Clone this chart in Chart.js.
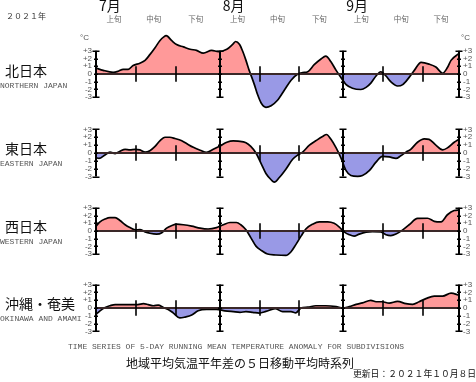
<!DOCTYPE html>
<html><head><meta charset="utf-8">
<script src="https://cdn.jsdelivr.net/npm/chart.js@4"></script>
<style>
html,body{margin:0;padding:0;background:#fff;}
#wrap{position:relative;width:476px;height:382px;overflow:hidden;background:#fff;}
canvas.p{position:absolute;left:0;}
.t{position:absolute;white-space:nowrap;line-height:1;}
.jp{font-family:"Noto Sans CJK JP";color:#111;}
.en{font-family:"Liberation Mono";color:#555;font-size:8px;}
.sm{font-family:"Liberation Sans";color:#555;font-size:8px;}
</style></head><body><div id="wrap">
<canvas class="p" id="c0" width="476" height="120" style="top:14px"></canvas>
<canvas class="p" id="c1" width="476" height="120" style="top:93px"></canvas>
<canvas class="p" id="c2" width="476" height="120" style="top:171px"></canvas>
<canvas class="p" id="c3" width="476" height="120" style="top:248px"></canvas>
</div>
<script>
// ---- data ----
const regions = ['北日本','東日本','西日本','沖縄・奄美'];
const regionsEn = ['NORTHERN JAPAN','EASTERN JAPAN','WESTERN JAPAN','OKINAWA AND AMAMI'];
const months = ['7月','8月','9月'];
const monthStartDay = [0,31,62];
const lastDay = 91;
const decades = ['上旬','中旬','下旬'];
const decadeTickDays = [10,20,41,51,72,82];
const yTicks = [-3,-2,-1,0,1,2,3];

const northDay = [0,1.8,4.3,5.6,6.8,8.1,9.3,11,12.3,13.5,14.8,16,17,17.6,19,20.2,21.9,23.6,25.2,26.9,29,30.7,32.8,34.4,35,36,36.8,37.6,38.4,38.8,39.7,40.5,41.4,42.6,43.9,45.5,47.2,48.9,50.6,51.8,53.1,54.7,56.4,57.6,58.9,60.2,61.4,62.7,64.3,66.4,67.7,68.9,70.2,71.4,72.7,73.9,75.6,76.9,78.5,79.8,81.5,83.5,85.2,86.9,88.1,89,90.6,91];
const northVal = [0.77,0.47,0.22,0.36,0.6,0.6,1.1,1.4,1.76,2.5,3.4,4.3,4.8,4.95,4.3,3.8,3.5,3.2,3.05,2.7,3.05,2.9,3.2,3.9,4.2,3.8,2.9,1.76,0.47,-0.08,-1.37,-2.65,-3.75,-4.3,-4.1,-3.4,-2.1,-0.8,0,0.18,0.3,1.2,1.94,2.3,1.58,0.47,-0.44,-1.37,-1.84,-2.0,-1.73,-1.18,-0.26,0.29,-0.26,-1.0,-1.55,-1.37,-0.44,0.47,1.5,1.28,0.9,0.1,0.84,1.76,2.5,2.6];

const eastDay = [0,0.75,2.25,3.5,4.8,6,7.3,8.5,9.8,11,12.3,13.5,14.8,16,17.3,18.5,19.8,21.5,22.7,24.4,26.1,27.7,29.4,31.1,32.8,34.4,35.6,37.6,38.8,40.1,41.4,42.6,43.9,44.7,45.9,47.6,49.3,50.6,51.8,53.5,55.1,56.8,57.8,58.9,60.2,61.4,62.7,63.9,65.6,66.8,68.5,70.2,71.8,73.5,75.2,76.4,77.7,78.9,80.6,82.3,83.5,85.2,86.9,88.1,89.8,91];
const eastVal = [-0.61,-0.69,-0.25,0.11,-0.07,0.22,0.47,0.4,0.47,0.4,0.11,0.29,0.83,1.55,2.0,2.0,1.84,1.55,1.2,0.72,0.36,0.07,0.47,0.9,1.37,1.55,1.5,1.3,0.83,0,-1.34,-2.6,-3.4,-3.7,-3.15,-2.06,-0.8,-0.25,0.11,1.0,1.55,2.1,2.35,1.74,0.65,-0.61,-2.24,-2.86,-2.97,-2.86,-2.24,-1.16,-0.43,-0.5,-0.69,-0.36,0.11,0.47,1.37,1.8,1.74,1.0,0.4,0.65,1.37,1.74];

const westDay = [0,1,2.25,3.5,4.8,6,7.3,8.5,9.8,11,12.3,13.5,15.2,16.5,17.7,19,20.2,21.9,24,26.1,28.1,30.2,31.9,33.6,35.2,36.3,37.6,38.8,40.1,41.4,43,45.1,47.6,48.9,50.1,51.4,52.6,54.3,56,58.1,59.7,61,62.2,63.5,64.7,66,67.7,69.3,71.4,72.7,73.9,75.2,76.9,78.5,80.6,83.1,84.8,86.5,88.1,89.8,91];
const westVal = [0.63,1.18,1.54,1.73,1.73,1.36,0.81,0.44,0.15,0.18,-0.11,-0.29,-0.4,-0.22,0.37,0.7,0.88,0.81,0.63,0.37,0.26,0.44,0.81,1.1,1.1,0.81,0.15,-0.85,-1.95,-2.5,-2.98,-3.1,-3.15,-2.68,-1.76,-0.66,0.26,0.88,1.18,1.18,0.99,0.51,-0.11,-0.48,-0.66,-0.4,-0.15,-0.07,-0.11,-0.48,-0.59,-0.4,0.15,0.81,1.62,1.65,1.25,1.18,2.1,2.65,2.72];

const okiDay = [0,1,2.3,3.5,4.8,6.8,9.3,10.5,11.9,13.1,14.4,15.6,16.9,18.1,19.4,21,22.3,24,25.6,27.7,30.2,32.3,34.4,36.1,37.6,39.3,40.9,42.6,44.9,46.8,48.9,50.1,51.4,53.1,55.1,57.6,60.2,61.8,63.5,65.2,66.8,68.9,70.2,71.8,73.5,75.6,77.7,79.4,81,82.7,84.8,86.9,89,91];
const okiVal = [-0.8,-0.36,0.07,0.29,0.44,0.44,0.44,0.44,0.55,0.44,0.29,0.36,0.07,-0.18,-0.65,-1.27,-1.16,-0.9,-0.36,-0.18,-0.18,-0.36,-0.47,-0.55,-0.47,-0.55,-0.65,-0.44,-0.07,-0.47,-0.47,-0.62,0,0.11,0.29,0.29,0.18,0,0.18,0.47,0.65,0.98,0.8,0.8,0.62,0.84,0.55,0.47,0.8,1.2,1.53,1.53,1.89,1.64];

const seriesDays = [northDay, eastDay, westDay, okiDay];
const seriesVals = [northVal, eastVal, westVal, okiVal];

// ---- drawing ----
const unitsPx = [9.07, 9.22, 9.07, 9.17];
const deco = {
  id: 'deco',
  afterDatasetsDraw(chart) {
    const {ctx, chartArea, scales: {x, y}} = chart;
    ctx.save();
    const y0 = y.getPixelForValue(0);
    ctx.strokeStyle = '#3a2828';
    ctx.lineWidth = 2;
    ctx.beginPath(); ctx.moveTo(chartArea.left, y0); ctx.lineTo(chartArea.right, y0); ctx.stroke();
    ctx.strokeStyle = '#000';
    const vlines = monthStartDay.concat([lastDay]);
    for (const d of vlines) {
      const px = Math.round(x.getPixelForValue(d));
      ctx.lineWidth = 2;
      ctx.beginPath(); ctx.moveTo(px, y.getPixelForValue(3)); ctx.lineTo(px, y.getPixelForValue(-3)); ctx.stroke();
      ctx.lineWidth = 1.5;
      for (const v of yTicks) {
        const w = (Math.abs(v) === 3) ? 3.5 : 2;
        const py = Math.round(y.getPixelForValue(v)) + 0.25;
        ctx.beginPath(); ctx.moveTo(px - w, py); ctx.lineTo(px + w, py); ctx.stroke();
      }
    }
    ctx.lineWidth = 1.6;
    for (const d of decadeTickDays) {
      const px = Math.round(x.getPixelForValue(d));
      ctx.beginPath(); ctx.moveTo(px, y.getPixelForValue(1)); ctx.lineTo(px, y.getPixelForValue(-1)); ctx.stroke();
    }
    ctx.restore();
  }
};
const fmt = v => v > 0 ? '+' + v : (v < 0 ? '-' + Math.abs(v) : '0');
const charts = [];
for (let i = 0; i < 4; i++) {
  const half = 60 / unitsPx[i];
  const tickOpts = {padding: 4, autoSkip: false, color: '#555', font: {family: 'Liberation Sans', size: 8}, callback: fmt};
  const c = new Chart(document.getElementById('c' + i), {
    type: 'line',
    data: {datasets: [{
      data: seriesDays[i].map((d, k) => ({x: d, y: seriesVals[i][k]})),
      borderColor: '#000', borderWidth: 1.7, pointRadius: 0,
      cubicInterpolationMode: 'monotone',
      fill: {target: 'origin', above: '#ff9999', below: '#9999e6'}
    }]},
    options: {
      responsive: false, animation: false, devicePixelRatio: 1,
      layout: {padding: 0},
      plugins: {legend: {display: false}, tooltip: {enabled: false}},
      scales: {
        x: {type: 'linear', min: 0, max: lastDay, display: false},
        y: {min: -half, max: half, position: 'left',
            afterFit: s => { s.width = 96; },
            afterBuildTicks: s => { s.ticks = yTicks.map(v => ({value: v})); },
            grid: {display: false, drawTicks: false}, border: {display: false}, ticks: tickOpts},
        y2: {min: -half, max: half, position: 'right',
            afterFit: s => { s.width = 17; },
            afterBuildTicks: s => { s.ticks = yTicks.map(v => ({value: v})); },
            grid: {display: false, drawTicks: false}, border: {display: false}, ticks: {...tickOpts, padding: 4}}
      }
    },
    plugins: [deco]
  });
  charts.push(c);
}

// ---- text ----
const wrap = document.getElementById('wrap');
function txt(s, cls, left, top, size, extra) {
  const e = document.createElement('div');
  e.className = 't ' + cls;
  e.textContent = s;
  e.style.left = left + 'px'; e.style.top = top + 'px';
  if (size) e.style.fontSize = size + 'px';
  if (extra) Object.assign(e.style, extra);
  wrap.appendChild(e);
  return e;
}
const xs = charts[0].scales.x;
txt('２０２１年', 'jp', 6, 12, 8, {color: '#333'});
months.forEach((m, i) => {
  txt(m, 'jp', xs.getPixelForValue(monthStartDay[i]) + 3, -2, 14);
});
const monthLen = [31, 31, 30];
monthStartDay.forEach((s, i) => {
  const centers = [s + 4.5, s + 14.5, s + (monthLen[i] === 31 ? 25 : 24.5)];
  decades.forEach((d, k) => {
    const e = txt(d, 'jp', 0, 15, 7.5, {color: '#666'});
    e.style.left = (xs.getPixelForValue(centers[k]) - 7.5) + 'px';
  });
});
txt('°C', 'sm', 80, 34, 8);
txt('°C', 'sm', 461, 34, 8);
const nameTop = [63, 141, 219, 296];
regions.forEach((r, i) => {
  txt(r, 'jp', 5, nameTop[i], 14);
  txt(regionsEn[i], 'en', 0, nameTop[i] + 19);
});
const b = txt('TIME SERIES OF 5-DAY RUNNING MEAN TEMPERATURE ANOMALY FOR SUBDIVISIONS', 'en', 68, 343);
txt('地域平均気温平年差の５日移動平均時系列', 'jp', 126, 357, 12);
txt('更新日：２０２１年１０月８日', 'jp', 353, 370, 8.8);
</script>
</body></html>
